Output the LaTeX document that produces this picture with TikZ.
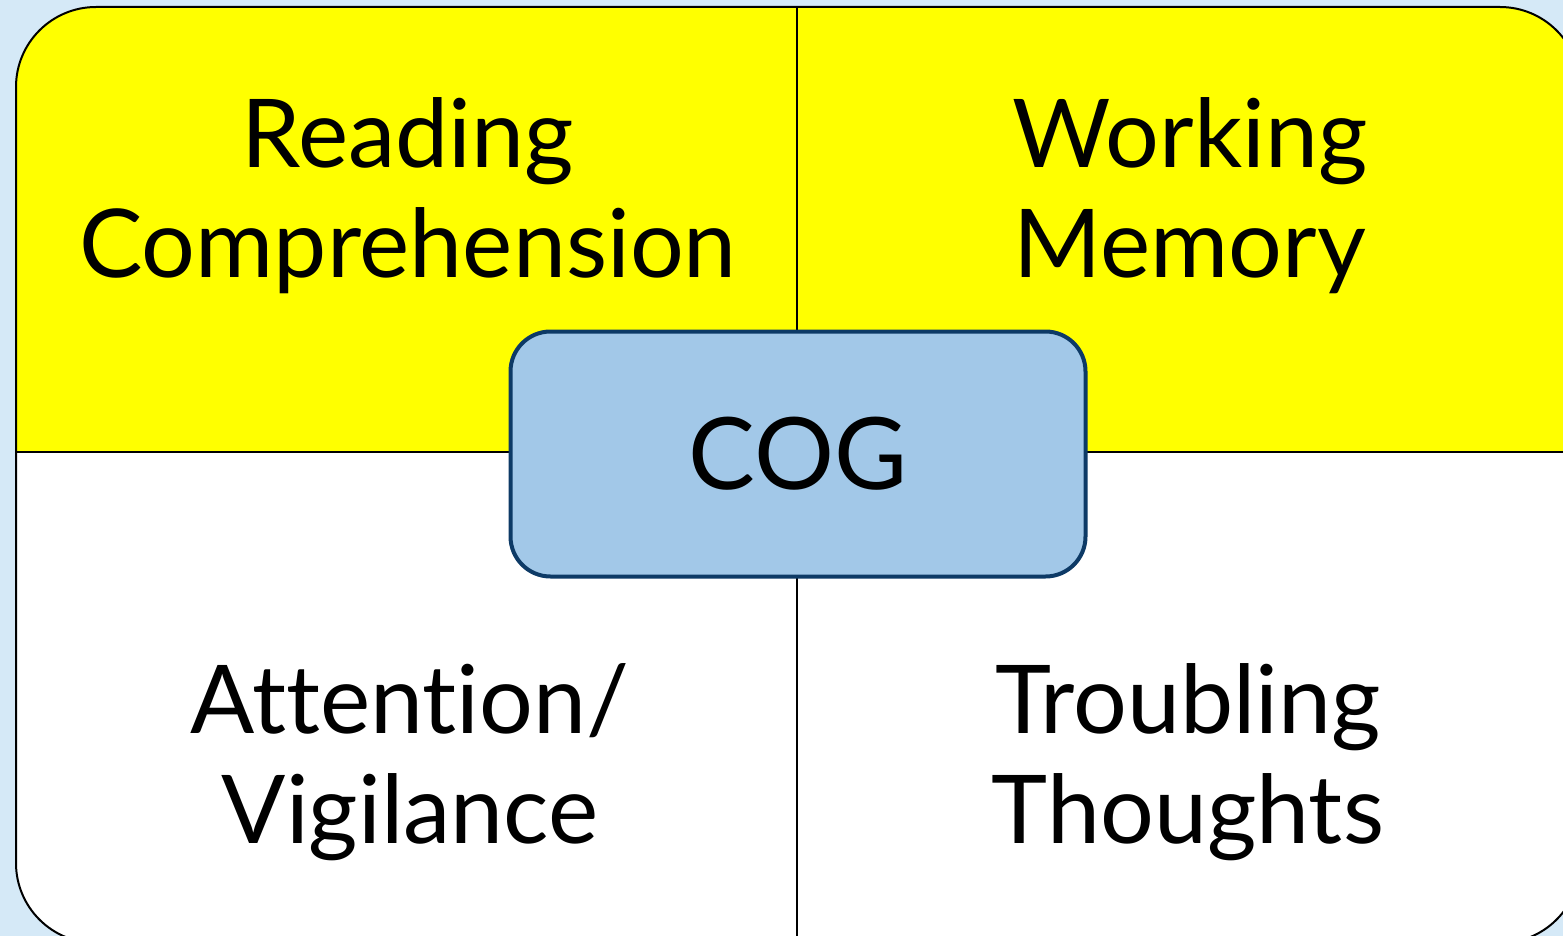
\documentclass[tikz,border=0pt]{standalone}
\usepackage{fontspec}
\setmainfont{Lato}[Ligatures=NoCommon]
\definecolor{bgblue}{HTML}{D5E9F7}
\definecolor{quadyellow}{HTML}{FFFF00}
\definecolor{cogfill}{HTML}{A2C8E8}
\definecolor{cogborder}{HTML}{0D3A66}
\tikzset{
  quadtext/.style={align=center, inner sep=0pt, font=\fontsize{95}{110}\selectfont, text=black},
  cogbox/.style={draw=cogborder, line width=4pt, fill=cogfill, rounded corners=40pt,
    minimum width=575pt, minimum height=245pt, inner sep=0pt, font=\fontsize{100}{110}\selectfont},
  edge/.style={draw=black, line width=2pt}
}
\begin{document}
\begin{tikzpicture}[x=1pt,y=-1pt]
\useasboundingbox (0,0) rectangle (1563,936);
\fill[bgblue] (0,0) rectangle (1563,936);
% outer matrix shape
\begin{scope}
  \clip[rounded corners=80pt] (16,7) rectangle (1580,943);
  \fill[quadyellow] (16,7) rectangle (1580,452);
  \fill[white] (16,452) rectangle (1580,943);
\end{scope}
\draw[edge, rounded corners=80pt] (16,7) rectangle (1580,943);
\coordinate (hl) at (16,452);
\coordinate (hr) at (1580,452);
\coordinate (vt) at (797,7);
\coordinate (vb) at (797,943);
\draw[edge, line width=1.5pt] (hl) -- (hr);
\draw[edge, line width=1.5pt] (vt) -- (vb);
% labels
\node[quadtext] (rc) at (408,196) {Reading\\Comprehension};
\node[quadtext] (wm) at (1190,196) {Working\\Memory};
\node[quadtext] (av) at (410,762) {Attention/\\Vigilance};
\node[quadtext] (tt) at (1188,762) {Troubling\\Thoughts};
% center
\node[cogbox] (cog) at (798,454) {COG};
\end{tikzpicture}
\end{document}
